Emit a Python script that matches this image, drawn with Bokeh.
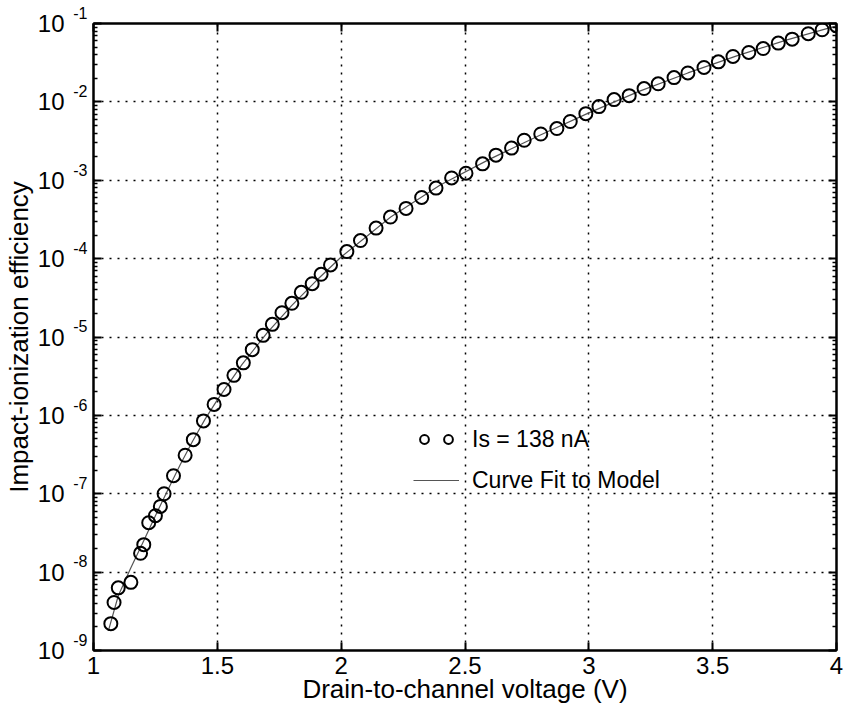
from bokeh.plotting import figure
from bokeh.models import (FixedTicker, LogAxis, LinearAxis, Legend, LegendItem,
                          CustomJSTickFormatter, Range1d)
from bokeh.embed import file_html
from bokeh.resources import INLINE

# ---- data ----
meas_v = [1.070, 1.083, 1.100, 1.151, 1.190, 1.203, 1.223, 1.250, 1.270, 1.285,
          1.323, 1.370, 1.403, 1.444, 1.487, 1.527, 1.567, 1.605, 1.641, 1.685,
          1.722, 1.761, 1.801, 1.839, 1.883, 1.919, 1.957, 2.023, 2.078, 2.141,
          2.199, 2.262, 2.325, 2.383, 2.446, 2.504, 2.571, 2.625, 2.688, 2.739,
          2.806, 2.871, 2.925, 2.988, 3.041, 3.102, 3.163, 3.223, 3.280, 3.344,
          3.400, 3.465, 3.523, 3.582, 3.646, 3.704, 3.765, 3.821, 3.886, 3.942, 4.000]
meas_eff = [2.2e-9, 4.1e-9, 6.3e-9, 7.4e-9, 1.74e-8, 2.24e-8, 4.27e-8, 5.25e-8, 6.9e-8, 1.0e-7,
            1.7e-7, 3.1e-7, 4.9e-7, 8.5e-7, 1.38e-6, 2.14e-6, 3.24e-6, 4.68e-6, 6.9e-6, 1.05e-5,
            1.45e-5, 2.04e-5, 2.69e-5, 3.72e-5, 4.79e-5, 6.31e-5, 8.3e-5, 1.23e-4, 1.70e-4, 2.45e-4,
            3.39e-4, 4.37e-4, 6.03e-4, 7.94e-4, 1.07e-3, 1.23e-3, 1.62e-3, 2.09e-3, 2.57e-3, 3.24e-3,
            3.89e-3, 4.57e-3, 5.62e-3, 7.08e-3, 8.71e-3, 1.07e-2, 1.20e-2, 1.48e-2, 1.70e-2, 2.04e-2,
            2.34e-2, 2.75e-2, 3.24e-2, 3.80e-2, 4.27e-2, 4.79e-2, 5.62e-2, 6.31e-2, 7.41e-2, 8.32e-2, 9.33e-2]

fit_v = [1.06, 1.10, 1.15, 1.20, 1.25, 1.30, 1.35, 1.40, 1.45, 1.50, 1.60, 1.70, 1.80,
         1.90, 2.00, 2.20, 2.40, 2.60, 2.80, 3.00, 3.20, 3.40, 3.60, 3.80, 4.00]
fit_eff = [1.78e-9, 5.0e-9, 1.12e-8, 2.4e-8, 5.25e-8, 1.12e-7, 2.34e-7, 4.68e-7, 8.9e-7,
           1.58e-6, 4.47e-6, 1.12e-5, 2.51e-5, 5.25e-5, 1.05e-4, 3.39e-4, 8.7e-4, 1.86e-3,
           3.72e-3, 7.24e-3, 1.35e-2, 2.34e-2, 3.89e-2, 6.17e-2, 9.33e-2]

x_ticks = [1, 1.5, 2, 2.5, 3, 3.5, 4]
x_tick_labels = ["1", "1.5", "2", "2.5", "3", "3.5", "4"]
y_ticks = [1e-9, 1e-8, 1e-7, 1e-6, 1e-5, 1e-4, 1e-3, 1e-2, 1e-1]
y_tick_base = "10"
y_tick_exps = ["-9", "-8", "-7", "-6", "-5", "-4", "-3", "-2", "-1"]

legend_labels = ["Is = 138 nA", "Curve Fit to Model"]
x_title = "Drain-to-channel voltage (V)"
y_title = "Impact-ionization efficiency"

FONT = "Liberation Sans"

# ---- figure ----
p = figure(width=844, height=712, x_range=Range1d(1, 4), y_range=Range1d(1e-9, 1e-1),
           y_axis_type="log", output_backend="svg", toolbar_location=None,
           min_border_left=92, min_border_right=8, min_border_top=23, min_border_bottom=62,
           background_fill_color="white", border_fill_color="white")
p.outline_line_color = "black"
p.outline_line_width = 2

minor_y = [m * t for t in y_ticks[:-1] for m in range(2, 10)]
xticker = FixedTicker(ticks=x_ticks)
yticker = FixedTicker(ticks=y_ticks, minor_ticks=minor_y)
blank = CustomJSTickFormatter(code="return ''")

def style_axis(ax):
    ax.axis_line_color = "black"
    ax.axis_line_width = 2
    ax.major_tick_in = 8
    ax.major_tick_out = 0
    ax.minor_tick_in = 4
    ax.minor_tick_out = 0
    ax.major_tick_line_color = "black"
    ax.major_tick_line_width = 2
    ax.minor_tick_line_color = "black"
    ax.minor_tick_line_width = 1.5

# bottom x axis
xa = p.xaxis[0]
xa.ticker = xticker
xa.major_label_overrides = {float(t): l for t, l in zip(x_ticks, x_tick_labels)}
style_axis(xa)
xa.minor_tick_line_color = None
xa.major_label_text_font = FONT
xa.major_label_text_font_size = "24px"
xa.major_label_text_color = "black"
xa.major_label_standoff = 6
xa.axis_label = x_title
xa.axis_label_text_font = FONT
xa.axis_label_text_font_size = "26px"
xa.axis_label_text_font_style = "normal"
xa.axis_label_text_color = "black"
xa.axis_label_standoff = -3

# left y axis (inner): exponents, raised as superscripts by an empty second line
ya = p.yaxis[0]
ya.ticker = yticker
ya.major_label_overrides = {t: e + "\n " for t, e in zip(y_ticks, y_tick_exps)}
style_axis(ya)
ya.major_label_text_font = FONT
ya.major_label_text_font_size = "16px"
ya.major_label_text_color = "black"
ya.major_label_standoff = 6

# left y axis (outer): the "10" bases and the title
yb = LogAxis(ticker=yticker, major_label_overrides={t: y_tick_base for t in y_ticks})
yb.axis_line_color = None
yb.major_tick_line_color = None
yb.minor_tick_line_color = None
yb.major_tick_in = 0
yb.major_tick_out = 0
yb.major_label_standoff = 2
yb.major_label_text_font = FONT
yb.major_label_text_font_size = "24px"
yb.major_label_text_color = "black"
yb.axis_label = y_title
yb.axis_label_text_font = FONT
yb.axis_label_text_font_size = "26px"
yb.axis_label_text_font_style = "normal"
yb.axis_label_text_color = "black"
yb.axis_label_standoff = 1
p.add_layout(yb, "left")

# top / right axes (ticks only)
ta = LinearAxis(ticker=xticker, formatter=blank)
style_axis(ta)
ta.minor_tick_line_color = None
p.add_layout(ta, "above")
ra = LogAxis(ticker=yticker, formatter=blank)
style_axis(ra)
p.add_layout(ra, "right")

# grid
for g in (p.xgrid[0], p.ygrid[0]):
    g.grid_line_color = "black"
    g.grid_line_dash = "2 6"
    g.grid_line_width = 1.5
    g.minor_grid_line_color = None
p.xgrid[0].ticker = xticker
p.ygrid[0].ticker = yticker

# data
r_fit = p.line(fit_v, fit_eff, line_color="#555555", line_width=1.2)
r_pts = p.scatter(meas_v, meas_eff, marker="circle", size=13, fill_color=None,
                  line_color="black", line_width=2)

# legend (two small circles, then a line)
common = dict(orientation="vertical", glyph_height=28, label_height=28, label_standoff=13,
              padding=0, margin=0, border_line_color=None, background_fill_alpha=0,
              label_text_font=FONT, label_text_font_size="23px", label_text_color="black")
leg1 = Legend(items=[LegendItem(label=legend_labels[0], renderers=[r_pts])],
              location=(344, 197), glyph_width=22, **common)
leg2 = Legend(items=[LegendItem(label=" ", renderers=[r_pts])],
              location=(320, 197), glyph_width=22, **common)
leg3 = Legend(items=[LegendItem(label=legend_labels[1], renderers=[r_fit])],
              location=(320, 156), glyph_width=46, **common)
for lg in (leg1, leg2, leg3):
    p.add_layout(lg)

open("out.html", "w").write(file_html(p, INLINE))
